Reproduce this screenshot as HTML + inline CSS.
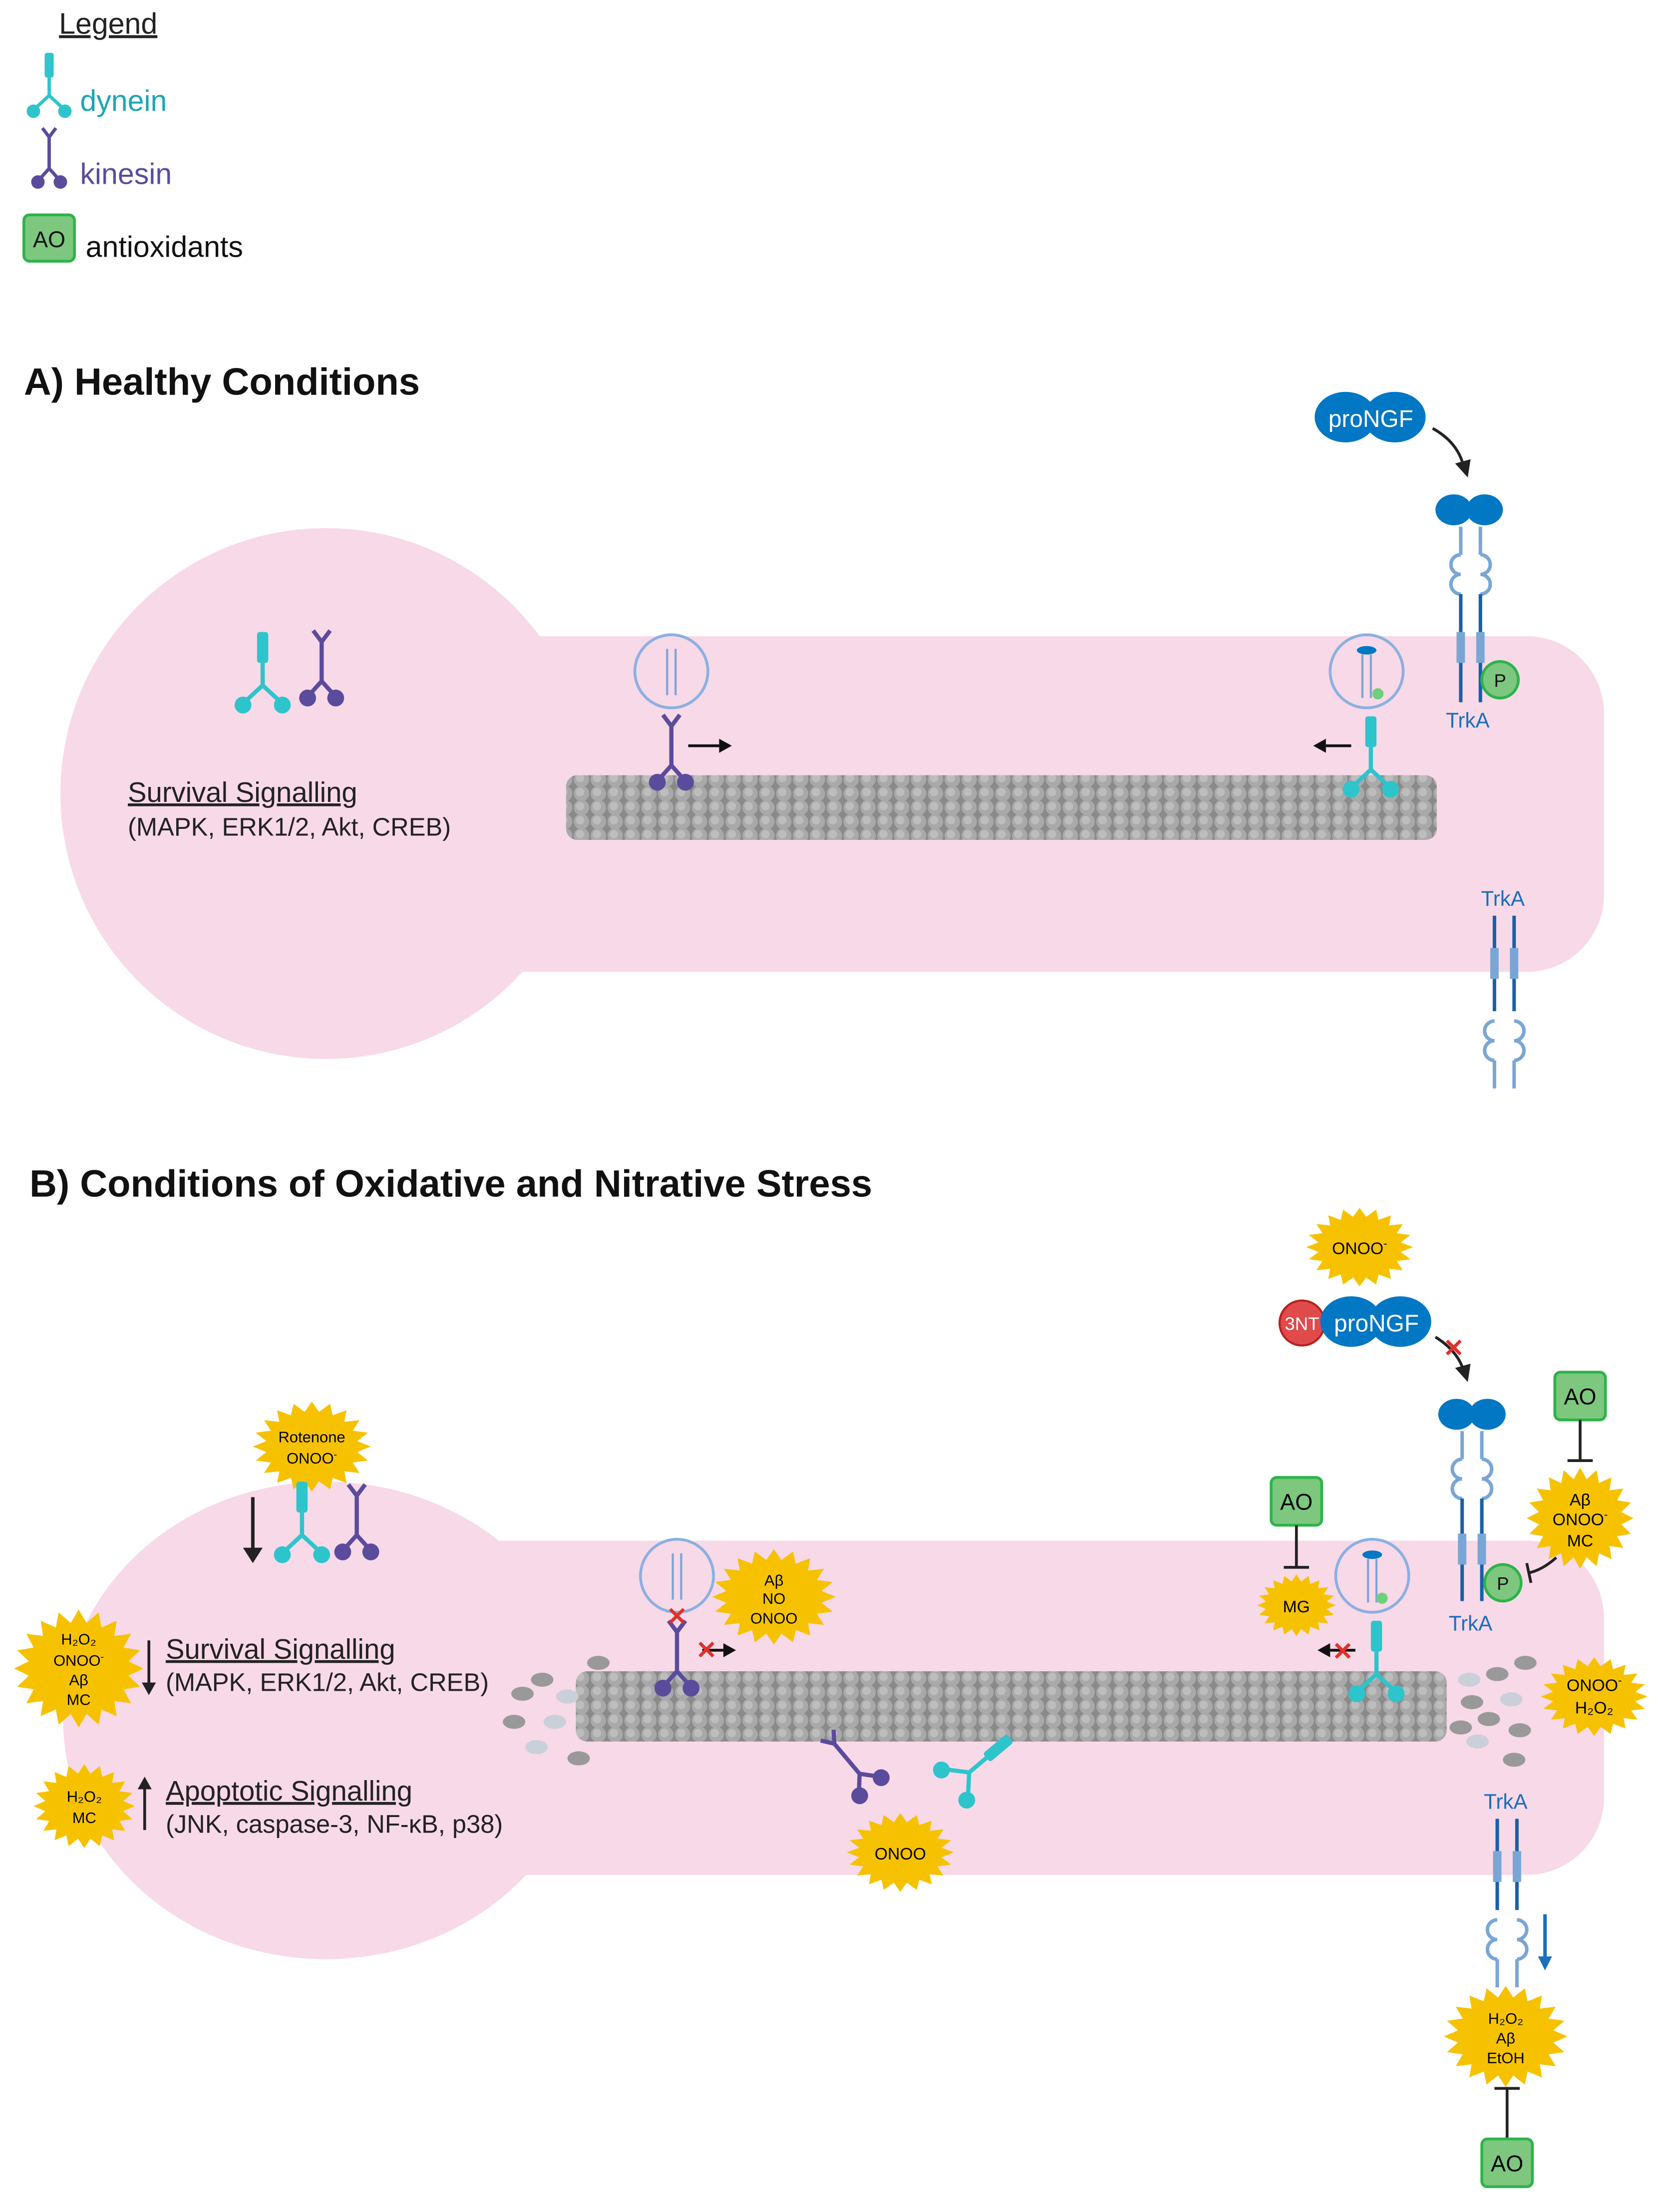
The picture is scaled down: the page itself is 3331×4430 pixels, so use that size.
<!DOCTYPE html>
<html><head><meta charset="utf-8"><style>
html,body{margin:0;padding:0;background:#fff}
svg{display:block}
text{font-family:"Liberation Sans",Arial,sans-serif}
</style></head><body>
<svg width="3331" height="4430" viewBox="0 0 1184 1575" preserveAspectRatio="none" xmlns="http://www.w3.org/2000/svg">
<defs>
<polygon id="star" points="1,0 .771,.122 .951,.309 .695,.354 .809,.588 .551,.551 .588,.809 .354,.695 .309,.951 .122,.771 0,1 -.122,.771 -.309,.951 -.354,.695 -.588,.809 -.551,.551 -.809,.588 -.695,.354 -.951,.309 -.771,.122 -1,0 -.771,-.122 -.951,-.309 -.695,-.354 -.809,-.588 -.551,-.551 -.588,-.809 -.354,-.695 -.309,-.951 -.122,-.771 0,-1 .122,-.771 .309,-.951 .354,-.695 .588,-.809 .551,-.551 .809,-.588 .695,-.354 .951,-.309 .771,-.122" fill="#f6c200"/>
<pattern id="mt" width="12" height="10" patternUnits="userSpaceOnUse">
<rect width="12" height="10" fill="#8a8a8a"/>
<circle cx="6" cy="5" r="5.5" fill="#a9a9a9"/><circle cx="5" cy="4" r="3" fill="#bdbdbd"/>
</pattern>
<g id="dyn">
<rect x="-4" y="-38" width="8" height="22" rx="2" fill="#2ec4cc"/>
<path d="M0,-16 V0 M0,0 L-13,12 M0,0 L13,12" stroke="#2ec4cc" stroke-width="3" fill="none"/>
<circle cx="-14" cy="14" r="6" fill="#2ec4cc"/><circle cx="14" cy="14" r="6" fill="#2ec4cc"/>
</g>
<g id="kin">
<path d="M-6,-36 L0,-28 L6,-36 M0,-28 V0 M0,0 L-9,10 M0,0 L9,10" stroke="#5b4b9c" stroke-width="3" fill="none"/>
<ellipse cx="-10" cy="12" rx="6" ry="6" fill="#5b4b9c"/><ellipse cx="10" cy="12" rx="6" ry="6" fill="#5b4b9c"/>
</g>
<g id="trk" stroke="#7aa6d6" fill="none" stroke-width="2.5">
<path d="M-7,0 V20 M7,0 V20"/>
<path d="M-7,20 a7,7 0 1 0 0,14 a7,7 0 1 0 0,14 M7,20 a7,7 0 1 1 0,14 a7,7 0 1 1 0,14"/>
</g>
</defs>

<!-- Legend -->
<text x="42" y="24" font-size="21" fill="#222" text-decoration="underline">Legend</text>
<use href="#dyn" transform="translate(35,68) scale(0.8)"/>
<text x="57" y="79" font-size="21" fill="#1aa7b4">dynein</text>
<use href="#kin" transform="translate(35,120) scale(0.8)"/>
<text x="57" y="131" font-size="21" fill="#5b4b9c">kinesin</text>
<rect x="17" y="153" width="36" height="33" rx="4" fill="#7dc87e" stroke="#2db34a" stroke-width="2"/>
<text x="35" y="176" font-size="16" text-anchor="middle" fill="#111">AO</text>
<text x="61" y="183" font-size="21" fill="#111">antioxidants</text>

<!-- A -->
<text x="17" y="281" font-size="27" font-weight="bold" fill="#111">A) Healthy Conditions</text>
<g fill="#f8d9e8">
<circle cx="232" cy="565" r="189"/>
<rect x="300" y="453" width="842" height="239" rx="55"/>
</g>
<use href="#dyn" transform="translate(187,488)"/>
<use href="#kin" transform="translate(229,485)"/>
<text x="91" y="571" font-size="20" fill="#222" text-decoration="underline">Survival Signalling </text>
<text x="91" y="595" font-size="18" fill="#222">(MAPK, ERK1/2, Akt, CREB)</text>
<rect x="403" y="552" width="620" height="46" rx="8" fill="url(#mt)"/>
<circle cx="478" cy="478" r="26" fill="none" stroke="#8ab0e0" stroke-width="2"/>
<path d="M475,462 V495 M481,462 V495" stroke="#7aa6d6" stroke-width="1.5"/>
<use href="#kin" transform="translate(478,545)"/>
<path d="M490,531 H512" stroke="#111" stroke-width="2"/><polygon points="512,526 521,531 512,536" fill="#111"/>
<circle cx="973" cy="478" r="26" fill="none" stroke="#8ab0e0" stroke-width="2"/>
<ellipse cx="973" cy="463" rx="7" ry="3" fill="#0277c4"/>
<path d="M970,466 V497 M976,466 V497" stroke="#7aa6d6" stroke-width="1.5"/><circle cx="981" cy="494" r="4" fill="#6fd07a"/>
<use href="#dyn" transform="translate(976,548)"/>
<path d="M962,531 H944" stroke="#111" stroke-width="2"/><polygon points="944,526 935,531 944,536" fill="#111"/>
<ellipse cx="958" cy="297" rx="22" ry="18" fill="#0277c4"/><ellipse cx="993" cy="297" rx="22" ry="18" fill="#0277c4"/>
<text x="976" y="304" font-size="17" fill="#fff" text-anchor="middle">proNGF</text>
<path d="M1020,305 Q1038,315 1042,332" stroke="#222" stroke-width="2" fill="none"/><polygon points="1036,330 1045,340 1047,327" fill="#222"/>
<ellipse cx="1035" cy="363" rx="13" ry="11" fill="#0277c4"/><ellipse cx="1057" cy="363" rx="13" ry="11" fill="#0277c4"/>
<use href="#trk" transform="translate(1047,375)"/>
<path d="M1040,423 V500 M1054,423 V500" stroke="#1a5fa8" stroke-width="2.5"/>
<rect x="1037" y="450" width="6" height="22" fill="#7aa6d6"/><rect x="1051" y="450" width="6" height="22" fill="#7aa6d6"/>
<circle cx="1068" cy="484" r="13" fill="#7dc87e" stroke="#2db34a" stroke-width="2"/>
<text x="1068" y="489" font-size="13" text-anchor="middle" fill="#111">P</text>
<text x="1045" y="518" font-size="15" text-anchor="middle" fill="#1a6fc0">TrkA</text>
<text x="1070" y="645" font-size="15" text-anchor="middle" fill="#1a6fc0">TrkA</text>
<path d="M1064,652 V720 M1078,652 V720" stroke="#1a5fa8" stroke-width="2.5"/>
<rect x="1061" y="675" width="6" height="22" fill="#7aa6d6"/><rect x="1075" y="675" width="6" height="22" fill="#7aa6d6"/>
<g transform="translate(1071,775) scale(1,-1)"><use href="#trk"/></g>

<!-- B -->
<text x="21" y="852" font-size="27" font-weight="bold" fill="#111">B) Conditions of Oxidative and Nitrative Stress</text>
<g fill="#f8d9e8">
<circle cx="232" cy="1245" r="150"/>
<ellipse cx="232" cy="1225" rx="187" ry="170"/>
<rect x="300" y="1097" width="842" height="238" rx="55"/>
</g>
<use href="#star" transform="translate(968,888) scale(38,28)"/>
<text x="968" y="893" font-size="12" text-anchor="middle">ONOO<tspan font-size="8" dy="-5">-</tspan></text>
<circle cx="927" cy="942" r="16" fill="#e04a4a" stroke="#b82020" stroke-width="1.5"/>
<text x="927" y="947" font-size="13" fill="#fff" text-anchor="middle">3NT</text>
<ellipse cx="962" cy="941" rx="22" ry="18" fill="#0277c4"/><ellipse cx="997" cy="941" rx="22" ry="18" fill="#0277c4"/>
<text x="980" y="948" font-size="17" fill="#fff" text-anchor="middle">proNGF</text>
<path d="M1022,952 Q1038,962 1042,976" stroke="#222" stroke-width="2" fill="none"/><polygon points="1036,974 1045,984 1047,971" fill="#222"/>
<text x="1035" y="966" font-size="18" fill="#e0302a" text-anchor="middle" font-weight="bold">✕</text>
<ellipse cx="1037" cy="1007" rx="13" ry="11" fill="#0277c4"/><ellipse cx="1059" cy="1007" rx="13" ry="11" fill="#0277c4"/>
<use href="#trk" transform="translate(1048,1019)"/>
<path d="M1041,1067 V1140 M1055,1067 V1140" stroke="#1a5fa8" stroke-width="2.5"/>
<rect x="1038" y="1092" width="6" height="22" fill="#7aa6d6"/><rect x="1052" y="1092" width="6" height="22" fill="#7aa6d6"/>
<circle cx="1070" cy="1127" r="13" fill="#7dc87e" stroke="#2db34a" stroke-width="2"/>
<text x="1070" y="1132" font-size="13" text-anchor="middle" fill="#111">P</text>
<text x="1047" y="1161" font-size="15" text-anchor="middle" fill="#1a6fc0">TrkA</text>
<rect x="1107" y="977" width="36" height="34" rx="4" fill="#7dc87e" stroke="#2db34a" stroke-width="2"/>
<text x="1125" y="1000" font-size="16" text-anchor="middle">AO</text>
<path d="M1125,1011 V1040 M1116,1040 H1134" stroke="#222" stroke-width="2"/>
<use href="#star" transform="translate(1125,1081) scale(38,36)"/>
<text x="1125" y="1072" font-size="12" text-anchor="middle">Aβ</text>
<text x="1125" y="1086" font-size="12" text-anchor="middle">ONOO<tspan font-size="8" dy="-5">-</tspan></text>
<text x="1125" y="1101" font-size="12" text-anchor="middle">MC</text>
<path d="M1108,1109 Q1098,1118 1088,1120 M1087,1113 L1090,1127" stroke="#222" stroke-width="2" fill="none"/>
<rect x="905" y="1052" width="36" height="34" rx="4" fill="#7dc87e" stroke="#2db34a" stroke-width="2"/>
<text x="923" y="1075" font-size="16" text-anchor="middle">AO</text>
<path d="M923,1086 V1116 M914,1116 H932" stroke="#222" stroke-width="2"/>
<use href="#star" transform="translate(923,1143) scale(28,22)"/>
<text x="923" y="1148" font-size="12" text-anchor="middle">MG</text>
<use href="#star" transform="translate(222,1030) scale(42,32)"/>
<text x="222" y="1027" font-size="11" text-anchor="middle">Rotenone</text>
<text x="222" y="1042" font-size="11" text-anchor="middle">ONOO<tspan font-size="7" dy="-4">-</tspan></text>
<path d="M180,1066 V1104" stroke="#222" stroke-width="2.5"/><polygon points="173,1102 180,1113 187,1102" fill="#222"/>
<use href="#dyn" transform="translate(215,1093)"/>
<use href="#kin" transform="translate(254,1093)"/>
<use href="#star" transform="translate(56,1188) scale(46,42)"/>
<text x="56" y="1171" font-size="11" text-anchor="middle">H₂O₂</text>
<text x="56" y="1186" font-size="11" text-anchor="middle">ONOO<tspan font-size="7" dy="-4">-</tspan></text>
<text x="56" y="1200" font-size="11" text-anchor="middle">Aβ</text>
<text x="56" y="1214" font-size="11" text-anchor="middle">MC</text>
<path d="M106,1168 V1200" stroke="#222" stroke-width="2"/><polygon points="101,1198 106,1207 111,1198" fill="#222"/>
<text x="118" y="1181" font-size="20" fill="#222" text-decoration="underline">Survival Signalling </text>
<text x="118" y="1204" font-size="18" fill="#222">(MAPK, ERK1/2, Akt, CREB)</text>
<use href="#star" transform="translate(60,1286) scale(36,30)"/>
<text x="60" y="1283" font-size="11" text-anchor="middle">H₂O₂</text>
<text x="60" y="1298" font-size="11" text-anchor="middle">MC</text>
<path d="M103,1303 V1272" stroke="#222" stroke-width="2"/><polygon points="98,1274 103,1265 108,1274" fill="#222"/>
<text x="118" y="1282" font-size="20" fill="#222" text-decoration="underline">Apoptotic Signalling</text>
<text x="118" y="1305" font-size="18" fill="#222">(JNK, caspase-3, NF-κB, p38)</text>
<rect x="410" y="1190" width="620" height="50" rx="8" fill="url(#mt)"/>
<g fill="#999">
<ellipse cx="372" cy="1206" rx="8" ry="5"/><ellipse cx="386" cy="1196" rx="8" ry="5"/><ellipse cx="395" cy="1226" rx="8" ry="5" fill="#c9d0da"/><ellipse cx="366" cy="1226" rx="8" ry="5"/><ellipse cx="412" cy="1252" rx="8" ry="5"/><ellipse cx="426" cy="1184" rx="8" ry="5"/><ellipse cx="404" cy="1208" rx="8" ry="5" fill="#c9d0da"/><ellipse cx="382" cy="1244" rx="8" ry="5" fill="#c9d0da"/>
<ellipse cx="1046" cy="1196" rx="8" ry="5" fill="#c9d0da"/><ellipse cx="1066" cy="1192" rx="8" ry="5"/><ellipse cx="1086" cy="1184" rx="8" ry="5"/><ellipse cx="1048" cy="1212" rx="8" ry="5"/><ellipse cx="1076" cy="1210" rx="8" ry="5" fill="#c9d0da"/><ellipse cx="1060" cy="1224" rx="8" ry="5"/><ellipse cx="1082" cy="1232" rx="8" ry="5"/><ellipse cx="1052" cy="1240" rx="8" ry="5" fill="#c9d0da"/><ellipse cx="1078" cy="1253" rx="8" ry="5"/><ellipse cx="1040" cy="1230" rx="8" ry="5"/>
</g>
<use href="#star" transform="translate(1135,1208) scale(38,28)"/>
<text x="1135" y="1204" font-size="12" text-anchor="middle">ONOO<tspan font-size="8" dy="-5">-</tspan></text>
<text x="1135" y="1220" font-size="12" text-anchor="middle">H₂O₂</text>
<circle cx="482" cy="1122" r="26" fill="none" stroke="#8ab0e0" stroke-width="2"/>
<path d="M479,1106 V1139 M485,1106 V1139" stroke="#7aa6d6" stroke-width="1.5"/>
<use href="#kin" transform="translate(482,1190)"/>
<text x="482" y="1157" font-size="18" fill="#e0302a" text-anchor="middle" font-weight="bold">✕</text>
<path d="M500,1175 H515" stroke="#111" stroke-width="2"/><polygon points="515,1170 524,1175 515,1180" fill="#111"/>
<text x="503" y="1181" font-size="18" fill="#e0302a" text-anchor="middle" font-weight="bold">✕</text>
<use href="#star" transform="translate(551,1137) scale(44,34)"/>
<text x="551" y="1129" font-size="11" text-anchor="middle">Aβ</text>
<text x="551" y="1142" font-size="11" text-anchor="middle">NO</text>
<text x="551" y="1156" font-size="11" text-anchor="middle">ONOO</text>
<circle cx="977" cy="1122" r="26" fill="none" stroke="#8ab0e0" stroke-width="2"/>
<ellipse cx="977" cy="1107" rx="7" ry="3" fill="#0277c4"/>
<path d="M974,1110 V1141 M980,1110 V1141" stroke="#7aa6d6" stroke-width="1.5"/><circle cx="984" cy="1138" r="4" fill="#6fd07a"/>
<use href="#dyn" transform="translate(980,1192)"/>
<path d="M965,1175 H947" stroke="#111" stroke-width="2"/><polygon points="947,1170 938,1175 947,1180" fill="#111"/>
<text x="956" y="1182" font-size="18" fill="#e0302a" text-anchor="middle" font-weight="bold">✕</text>
<g transform="translate(612,1263) rotate(-40)"><use href="#kin"/></g>
<g transform="translate(690,1262) rotate(50)"><use href="#dyn"/></g>
<use href="#star" transform="translate(641,1319) scale(38,28)"/>
<text x="641" y="1324" font-size="12" text-anchor="middle">ONOO</text>
<text x="1072" y="1288" font-size="15" text-anchor="middle" fill="#1a6fc0">TrkA</text>
<path d="M1066,1295 V1360 M1080,1295 V1360" stroke="#1a5fa8" stroke-width="2.5"/>
<rect x="1063" y="1318" width="6" height="22" fill="#7aa6d6"/><rect x="1077" y="1318" width="6" height="22" fill="#7aa6d6"/>
<g transform="translate(1073,1415) scale(1,-1)"><use href="#trk"/></g>
<path d="M1100,1363 V1395" stroke="#1a6fc0" stroke-width="2.5"/><polygon points="1095,1393 1100,1403 1105,1393" fill="#1a6fc0"/>
<use href="#star" transform="translate(1072,1450) scale(44,36)"/>
<text x="1072" y="1441" font-size="11" text-anchor="middle">H₂O₂</text>
<text x="1072" y="1455" font-size="11" text-anchor="middle">Aβ</text>
<text x="1072" y="1469" font-size="11" text-anchor="middle">EtOH</text>
<path d="M1073,1523 V1487 M1064,1487 H1082" stroke="#222" stroke-width="2"/>
<rect x="1055" y="1523" width="36" height="34" rx="4" fill="#7dc87e" stroke="#2db34a" stroke-width="2"/>
<text x="1073" y="1546" font-size="16" text-anchor="middle">AO</text>
</svg>
</body></html>
